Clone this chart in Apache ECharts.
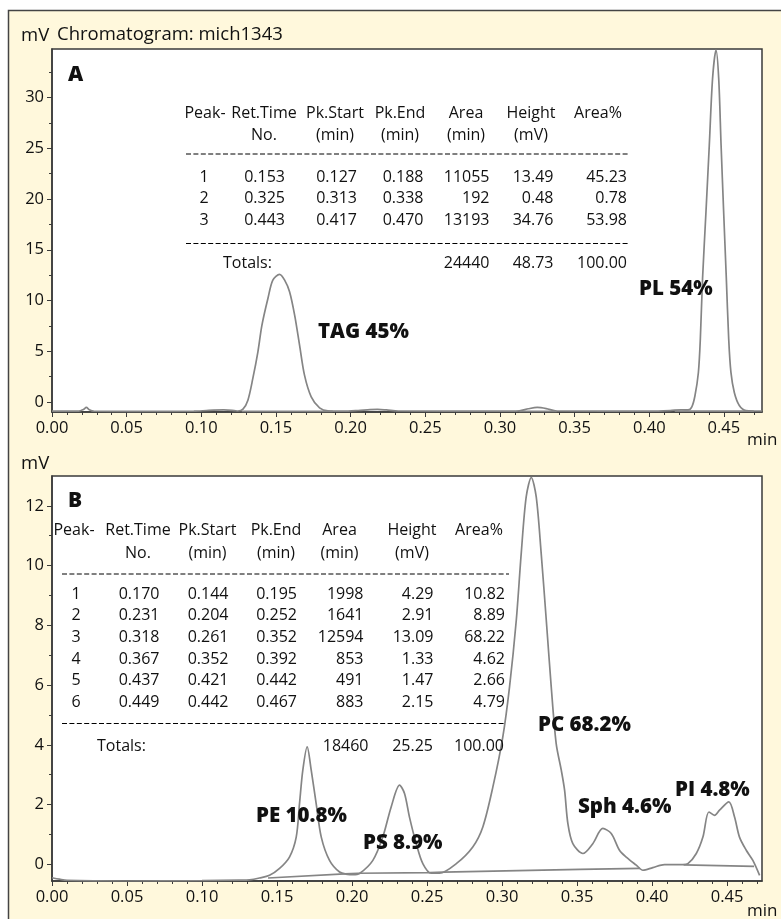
<!DOCTYPE html>
<html><head><meta charset="utf-8">
<script src="https://cdn.jsdelivr.net/npm/echarts@6/dist/echarts.min.js"></script>
<style>html,body{margin:0;padding:0;background:#fff}#c{width:781px;height:919px}</style>
</head><body><div id="c"></div>
<script>
// ---------------- data ----------------
const xTickLabels = [0, 0.05, 0.10, 0.15, 0.20, 0.25, 0.30, 0.35, 0.40, 0.45];
const xMinorTicks = [0.01,0.02,0.03,0.04,0.06,0.07,0.08,0.09,0.11,0.12,0.13,0.14,0.16,0.17,0.18,0.19,0.21,0.22,0.23,0.24,0.26,0.27,0.28,0.29,0.31,0.32,0.33,0.34,0.36,0.37,0.38,0.39,0.41,0.42,0.43,0.44,0.46,0.47];
const yTickLabelsA = [0, 5, 10, 15, 20, 25, 30];
const yMinorTicksA = [2.5, 7.5, 12.5, 17.5, 22.5, 27.5, 32.5];
const yTickLabelsB = [0, 2, 4, 6, 8, 10, 12];
const yMinorTicksB = [1, 3, 5, 7, 9, 11];

// Panel A chromatogram (time min, mV)
const signalA = [
  [0.000,-0.92],[0.018,-0.92],[0.021,-0.75],[0.023,-0.55],[0.025,-0.78],[0.028,-0.92],
  [0.060,-0.93],[0.095,-0.92],[0.105,-0.84],[0.115,-0.80],[0.122,-0.86],[0.1245,-0.90],
  [0.1279,-0.72],[0.1312,0.17],[0.1345,2.31],[0.1379,4.94],[0.1406,7.57],[0.1446,10.2],
  [0.1479,12.0],[0.1524,12.58],[0.1558,12.0],[0.1591,10.86],[0.1625,8.56],[0.1658,5.6],
  [0.1691,2.64],[0.1736,0.5],[0.1792,-0.59],[0.1848,-0.89],[0.195,-0.92],[0.205,-0.85],
  [0.213,-0.76],[0.218,-0.74],[0.224,-0.80],[0.232,-0.90],[0.300,-0.92],[0.313,-0.88],
  [0.319,-0.68],[0.325,-0.55],[0.331,-0.66],[0.338,-0.90],[0.400,-0.92],[0.414,-0.86],
  [0.4215,-0.78],[0.426,-0.80],[0.4285,-0.5],[0.4306,0.6],[0.4329,2.9],[0.4342,6.2],
  [0.4357,12.2],[0.438,18.8],[0.4402,25.3],[0.4424,31.9],[0.4447,34.7],[0.4465,31.9],
  [0.4481,25.3],[0.4498,18.8],[0.4516,12.2],[0.4532,6.2],[0.4547,2.9],[0.457,0.9],
  [0.4603,-0.35],[0.4648,-0.85],[0.4755,-0.90]
];
const baselineA = [
  [0.127,-0.93],[0.188,-0.93],null,[0.313,-0.93],[0.338,-0.93],null,[0.417,-0.92],[0.470,-0.92]
];

// Panel B chromatogram (time min, mV)
const signalB = [
  [0.000,-0.45],[0.005,-0.50],[0.010,-0.54],[0.050,-0.56],[0.100,-0.55],[0.125,-0.53],
  [0.1317,-0.52],[0.1383,-0.46],[0.145,-0.37],[0.1517,-0.14],[0.1583,0.24],[0.1628,0.91],
  [0.165,2.03],[0.1672,3.15],[0.1701,3.93],[0.1728,3.15],[0.1761,2.03],[0.1795,0.91],
  [0.185,0.13],[0.1917,-0.26],[0.1972,-0.34],[0.2005,-0.35],[0.205,-0.31],[0.2139,0.13],
  [0.2205,0.91],[0.2261,1.92],[0.2317,2.65],[0.235,2.37],[0.2383,1.58],[0.2428,0.69],
  [0.2472,0.02],[0.2528,-0.30],[0.2583,-0.30],[0.2695,0.02],[0.2805,0.58],[0.2872,1.25],
  [0.2939,2.59],[0.3005,4.26],[0.305,5.94],[0.3095,8.17],[0.3128,10.41],[0.3161,12.3],
  [0.3195,12.95],[0.3228,12.3],[0.3261,10.41],[0.3295,8.17],[0.3328,5.94],[0.3361,4.04],
  [0.3395,3.15],[0.3417,2.48],[0.3439,1.36],[0.3472,0.69],[0.3539,0.36],[0.3605,0.69],
  [0.3672,1.20],[0.3728,1.03],[0.3783,0.47],[0.3828,0.24],[0.3895,-0.03],[0.3939,-0.20],
  [0.4005,-0.11],[0.4083,-0.01],[0.4205,-0.01],[0.4239,0.02],[0.4295,0.36],[0.4339,0.91],
  [0.4379,1.75],[0.4417,1.64],[0.445,1.81],[0.4512,2.09],[0.455,1.58],[0.4583,0.91],
  [0.4628,0.47],[0.4672,0.13],[0.4717,-0.37]
];
const baselineB = [
  [0.144,-0.46],[0.195,-0.32],[0.204,-0.30],[0.252,-0.28],[0.261,-0.26],[0.352,-0.17],
  [0.392,-0.14],null,[0.421,-0.02],[0.468,-0.07]
];

// Peak tables
const headerRow1 = ['Peak-', 'Ret.Time', 'Pk.Start', 'Pk.End', 'Area', 'Height', 'Area%'];
const headerRow2 = ['', 'No.', '(min)', '(min)', '(min)', '(mV)', ''];
const peakTableA = [
  ['1', '0.153', '0.127', '0.188', '11055', '13.49', '45.23'],
  ['2', '0.325', '0.313', '0.338', '192', '0.48', '0.78'],
  ['3', '0.443', '0.417', '0.470', '13193', '34.76', '53.98']
];
const totalsA = ['24440', '48.73', '100.00'];
const peakTableB = [
  ['1', '0.170', '0.144', '0.195', '1998', '4.29', '10.82'],
  ['2', '0.231', '0.204', '0.252', '1641', '2.91', '8.89'],
  ['3', '0.318', '0.261', '0.352', '12594', '13.09', '68.22'],
  ['4', '0.367', '0.352', '0.392', '853', '1.33', '4.62'],
  ['5', '0.437', '0.421', '0.442', '491', '1.47', '2.66'],
  ['6', '0.449', '0.442', '0.467', '883', '2.15', '4.79']
];
const totalsB = ['18460', '25.25', '100.00'];
const peakLabelsA = ['TAG 45%', 'PL 54%'];
const peakLabelsB = ['PE 10.8%', 'PS 8.9%', 'PC 68.2%', 'Sph 4.6%', 'PI 4.8%'];

// ---------------- layout / styles ----------------
const FONT = '"Open Sans", "Noto Sans", sans-serif';
const TXT = '#111';
const AX = '#3a3a3a';
const TRACE = '#858585';
const CREAM = '#fff8dc';

const graphics = [];
function T(text, x, y, size, align, weight) {
  graphics.push({
    type: 'text', silent: true, z: 50,
    style: {
      text: text, x: x, y: y, fill: TXT,
      font: (weight || 'normal') + ' ' + size + 'px ' + FONT,
      textAlign: align || 'left', textVerticalAlign: 'middle'
    }
  });
}
function dash(x1, x2, y) {
  graphics.push({
    type: 'line', silent: true, z: 50,
    shape: { x1: x1, y1: y, x2: x2, y2: y },
    style: { stroke: '#000', lineWidth: 1, lineDash: [5, 2.4] }
  });
}
// white outside of the outer frame + frame lines
graphics.push({ type: 'rect', silent: true, z: 1, shape: { x: 0, y: 0, width: 8, height: 919 }, style: { fill: '#fff' } });
graphics.push({ type: 'rect', silent: true, z: 1, shape: { x: 0, y: 0, width: 781, height: 10 }, style: { fill: '#fff' } });
graphics.push({ type: 'polyline', silent: true, z: 2, shape: { points: [[8.5, 919], [8.5, 10.5], [781, 10.5]] }, style: { stroke: '#444', lineWidth: 1.5, fill: null } });

// titles and units
T('mV', 21, 36, 18.5);
T('Chromatogram: mich1343', 57, 35, 18.5);
T('min', 747, 440, 17);
T('mV', 21, 464, 18.5);
T('min', 747, 911, 17);
T('A', 68, 75, 21, 'left', '900');
T('B', 68, 501, 21, 'left', '900');

// table A
const TS = 16;
const hA = [205, 264, 335, 400, 466, 531, 598];
const rA = [204, 285, 357, 423.5, 489.5, 553.5, 627];
headerRow1.forEach((t, i) => T(t, hA[i], 113, TS, 'center'));
headerRow2.forEach((t, i) => { if (t) T(t, hA[i], 135, TS, 'center'); });
dash(186, 628, 154);
peakTableA.forEach((row, r) => row.forEach((t, i) => T(t, rA[i], 177 + r * 21.7, TS, i === 0 ? 'center' : 'right')));
dash(186, 628, 243.5);
T('Totals:', 223, 263, TS);
totalsA.forEach((t, i) => T(t, rA[4 + i], 263, TS, 'right'));

// table B
const hB = [74, 138, 207.5, 276, 339.5, 412, 479];
const rB = [76, 159.5, 228.5, 297, 363.5, 433.5, 505];
headerRow1.forEach((t, i) => T(t, hB[i], 530, TS, 'center'));
headerRow2.forEach((t, i) => { if (t) T(t, hB[i], 553, TS, 'center'); });
dash(62, 509, 574);
peakTableB.forEach((row, r) => row.forEach((t, i) => T(t, rB[i], 594 + r * 21.7, TS, i === 0 ? 'center' : 'right')));
dash(62, 504, 723.5);
T('Totals:', 97, 746, TS);
const rTotB = [368.5, 433, 504];
totalsB.forEach((t, i) => T(t, rTotB[i], 746, TS, 'right'));

// peak labels
const LS = 20.5;
const posA = [[318, 332], [639, 289.5]];
peakLabelsA.forEach((t, i) => T(t, posA[i][0], posA[i][1], LS, 'left', '900'));
const posB = [[256, 816], [363, 843], [538, 725], [578, 807.5], [675, 790]];
peakLabelsB.forEach((t, i) => T(t, posB[i][0], posB[i][1], LS, 'left', '900'));

// ---------------- chart ----------------
const gridA = { left: 52, top: 49, width: 710, height: 363 };
const gridB = { left: 52, top: 476, width: 710, height: 405 };
const xMaxA = 0.4755, xMaxB = 0.4733;
const yA = [-1.0, 34.8], yB = [-0.56, 13.0];

function mainX(gi, max) {
  return {
    type: 'value', gridIndex: gi, min: 0, max: max, position: 'bottom',
    axisLine: { show: true, onZero: false, lineStyle: { color: AX, width: 1.5 } },
    axisTick: { show: true, length: 5, customValues: xTickLabels, lineStyle: { color: AX, width: 1 } },
    axisLabel: { show: true, customValues: xTickLabels, margin: 8, color: TXT, fontSize: 16.5, fontFamily: FONT,
      formatter: v => v.toFixed(2) },
    splitLine: { show: false }
  };
}
function minorX(gi, max) {
  return {
    type: 'value', gridIndex: gi, min: 0, max: max, position: 'bottom',
    axisLine: { show: false, onZero: false }, axisLabel: { show: false }, splitLine: { show: false },
    axisTick: { show: true, length: 3, customValues: xMinorTicks, lineStyle: { color: AX, width: 1 } }
  };
}
function mainY(gi, ext, ticks) {
  return {
    type: 'value', gridIndex: gi, min: ext[0], max: ext[1], position: 'left',
    axisLine: { show: true, onZero: false, lineStyle: { color: AX, width: 1.5 } },
    axisTick: { show: true, length: 5, customValues: ticks, lineStyle: { color: AX, width: 1 } },
    axisLabel: { show: true, customValues: ticks, margin: 8, color: TXT, fontSize: 16.5, fontFamily: FONT },
    splitLine: { show: false }
  };
}
function minorY(gi, ext, ticks) {
  return {
    type: 'value', gridIndex: gi, min: ext[0], max: ext[1], position: 'left',
    axisLine: { show: false, onZero: false }, axisLabel: { show: false }, splitLine: { show: false },
    axisTick: { show: true, length: 3, customValues: ticks, lineStyle: { color: AX, width: 1 } }
  };
}
function trace(data, xi, yi, smooth) {
  return {
    type: 'line', data: data, xAxisIndex: xi, yAxisIndex: yi, showSymbol: false,
    smooth: smooth, connectNulls: false, animation: false, silent: true,
    lineStyle: { color: TRACE, width: 1.7 }
  };
}

const chart = echarts.init(document.getElementById('c'), null, { renderer: 'canvas' });
chart.setOption({
  backgroundColor: CREAM,
  animation: false,
  grid: [
    Object.assign({ show: true, backgroundColor: '#fff', borderColor: AX, borderWidth: 1.5 }, gridA),
    Object.assign({ show: true, backgroundColor: '#fff', borderColor: AX, borderWidth: 1.5 }, gridB)
  ],
  xAxis: [mainX(0, xMaxA), minorX(0, xMaxA), mainX(1, xMaxB), minorX(1, xMaxB)],
  yAxis: [mainY(0, yA, yTickLabelsA), minorY(0, yA, yMinorTicksA), mainY(1, yB, yTickLabelsB), minorY(1, yB, yMinorTicksB)],
  series: [
    trace(baselineA, 0, 0, false),
    trace(signalA, 0, 0, 0.3),
    trace(baselineB, 2, 2, false),
    trace(signalB, 2, 2, 0.3)
  ],
  graphic: { elements: graphics }
});
</script>
</body></html>
